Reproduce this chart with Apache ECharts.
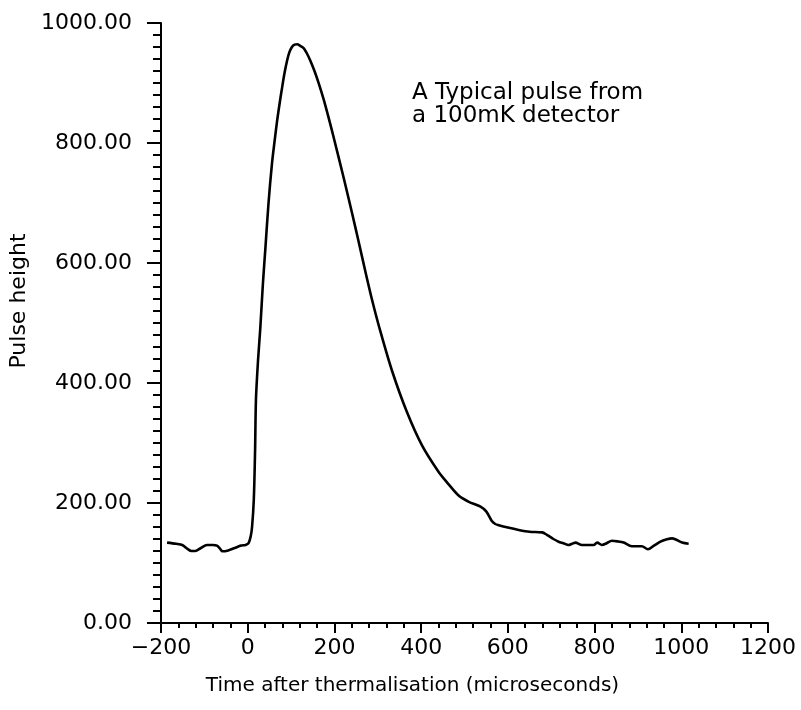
<!DOCTYPE html>
<html>
<head>
<meta charset="utf-8">
<script src="https://cdn.jsdelivr.net/npm/echarts@6/dist/echarts.min.js"></script>
<style>html,body{margin:0;padding:0;background:#fff}#c{width:801px;height:710px}</style>
</head>
<body>
<div id="c"></div>
<script>
// Time after thermalisation (microseconds)
var timeUs = [-186,-165,-151,-138,-130,-121,-108,-94,-80,-71,-64,-58,-45,-30,-15,-5,2,7,10,14,17,19,24,29,35,41,48,56,62,68,74,79,85,91,96,102,108,114,121,129,136,144,154,164,175,187,198,221,241,256,271,287,306,333,367,402,440,460,487,510,537,550,563,571,579,600,625,650,679,690,705,717,728,740,748,756,771,785,798,806,817,828,840,853,867,886,909,923,937,952,965,979,986,1002,1017];
// Pulse height
var pulseHeight = [134,132,130,123,120,120,125,130,130,129,124,119.5,121,125,129,130,133,145,160,205,288,372,440,491,565,627,700,766,803,838,868,891,917,938,951,960,964,964.5,962,958,950,938,920,899,873,841,810,743,682,635,587,538,486,420,352,296,252,234,212,202,194,186,170,165,163,159,155,152,151,147,140,135.5,133,130,132,134,130,130,130,134,130,133,137,136,134,128,128,123,129,135.5,139,141,139.5,134,132];
var xTicks = [-200,0,200,400,600,800,1000,1200];
var yTicks = [0,200,400,600,800,1000];
var annotationLines = ["A Typical pulse from", "a 100mK detector"];
var xTitle = "Time after thermalisation (microseconds)";
var yTitle = "Pulse height";

var pts = timeUs.map(function(t,i){return [t, pulseHeight[i]];});
var FONT = "DejaVu Sans";
var chart = echarts.init(document.getElementById('c'), null, {renderer:'canvas'});
chart.setOption({
  animation:false,
  backgroundColor:'#fff',
  grid:{left:161,right:33,top:23,bottom:87,containLabel:false},
  xAxis:{
    type:'value', min:xTicks[0], max:xTicks[xTicks.length-1], interval:200,
    name:xTitle, nameLocation:'middle', nameGap:53,
    nameTextStyle:{fontFamily:FONT,fontSize:20,color:'#000',padding:[0,104,0,0]},
    axisLine:{show:true,onZero:false,lineStyle:{color:'#000',width:2}},
    axisTick:{show:true,length:10,lineStyle:{color:'#000',width:2}},
    minorTick:{show:true,splitNumber:5,length:5,lineStyle:{color:'#000',width:2}},
    splitLine:{show:false},
    axisLabel:{fontFamily:FONT,fontSize:22,color:'#000',margin:14,
      formatter:function(v){return v<0?('\u2212'+Math.abs(v)):String(v);}}
  },
  yAxis:{
    type:'value', min:yTicks[0], max:yTicks[yTicks.length-1], interval:200,
    name:yTitle, nameLocation:'middle', nameGap:128, nameRotate:90,
    nameTextStyle:{fontFamily:FONT,fontSize:22,color:'#000',padding:[0,0,0,44]},
    axisLine:{show:true,onZero:false,lineStyle:{color:'#000',width:2}},
    axisTick:{show:true,length:14,lineStyle:{color:'#000',width:2}},
    minorTick:{show:true,splitNumber:10,length:8,lineStyle:{color:'#000',width:2}},
    splitLine:{show:false},
    axisLabel:{fontFamily:FONT,fontSize:22,color:'#000',margin:29,
      formatter:function(v){return v.toFixed(2);}}
  },
  graphic:[
    {type:'text',left:412,top:82,style:{text:annotationLines[0],font:'23px "DejaVu Sans"',fill:'#000'}},
    {type:'text',left:412,top:105,style:{text:annotationLines[1],font:'23px "DejaVu Sans"',fill:'#000'}}
  ],
  series:[{
    type:'line', data:pts, showSymbol:false, smooth:0.3,
    lineStyle:{color:'#000',width:2.6}, z:3
  }]
});
</script>
</body>
</html>
